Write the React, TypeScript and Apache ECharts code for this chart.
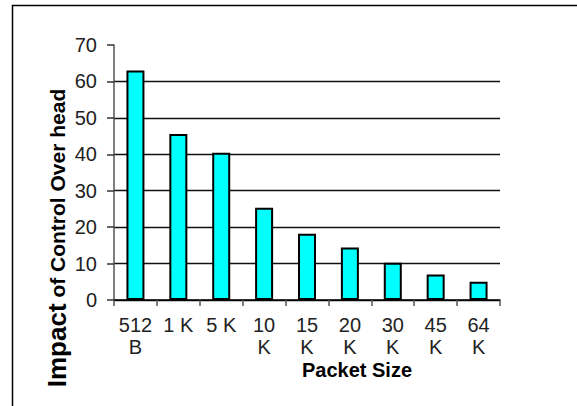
import React, { useEffect, useRef } from "react";
import * as echarts from "echarts";

const categories = ["512\nB", "1 K", "5 K", "10\nK", "15\nK", "20\nK", "30\nK", "45\nK", "64\nK"];
const overhead = [63, 45.6, 40.4, 25.3, 18.2, 14.4, 10.2, 7.0, 5.0];
const yTicks = { min: 0, max: 70, interval: 10 };
const yTitleMain = "Impact";
const yTitleRest = " of Control Over head";
const xTitle = "Packet Size";

const FONT = "'Liberation Sans', Arial, sans-serif";

export default function App() {
  const ref = useRef<HTMLDivElement>(null);
  useEffect(() => {
    if (!ref.current) return;
    const chart = echarts.init(ref.current, null, { renderer: "svg" });
    chart.setOption({
      animation: false,
      backgroundColor: "#ffffff",
      textStyle: { fontFamily: FONT },
      grid: { left: 114, right: 77, top: 45, bottom: 106, containLabel: false },
      xAxis: {
        type: "category",
        data: categories,
        boundaryGap: true,
        axisLine: { show: true, lineStyle: { color: "#000", width: 1.5 } },
        axisTick: { show: true, length: 6, alignWithLabel: false, lineStyle: { color: "#555", width: 1.5 } },
        axisLabel: {
          interval: 0,
          margin: 14,
          fontSize: 20,
          lineHeight: 22,
          color: "#222",
          fontFamily: FONT,
        },
        splitLine: { show: false },
      },
      yAxis: {
        type: "value",
        min: yTicks.min,
        max: yTicks.max,
        interval: yTicks.interval,
        axisLine: { show: true, lineStyle: { color: "#555", width: 1.5 } },
        axisTick: { show: true, length: 7, inside: false, lineStyle: { color: "#333", width: 1.5 } },
        axisLabel: { margin: 17, fontSize: 20, color: "#222", fontFamily: FONT },
        splitLine: { show: true, showMaxLine: false, lineStyle: { color: "#111", width: 1.3 } },
      },
      series: [
        {
          type: "bar",
          data: overhead,
          barWidth: 18,
          itemStyle: { color: "#00FFFF", borderColor: "#000", borderWidth: 2 },
        },
      ],
      graphic: [
        {
          type: "rect",
          shape: { x: 12.5, y: 5.5, width: 700, height: 600 },
          style: { fill: "none", stroke: "#000", lineWidth: 1.5 },
          silent: true,
        },
        {
          type: "text",
          x: 57,
          y: 238,
          rotation: Math.PI / 2,
          style: {
            text: "{a|" + yTitleMain + "}{b|" + yTitleRest + "}",
            align: "center",
            verticalAlign: "middle",
            textAlign: "center",
            textVerticalAlign: "middle",
            fill: "#000",
            rich: {
              a: { fontSize: 26, fontWeight: "bold", fontFamily: FONT, fill: "#000", color: "#000" },
              b: { fontSize: 21, fontWeight: "bold", fontFamily: FONT, fill: "#000", color: "#000" },
            },
          },
        },
        {
          type: "text",
          x: 357,
          y: 370,
          style: {
            text: xTitle,
            align: "center",
            verticalAlign: "middle",
            textAlign: "center",
            textVerticalAlign: "middle",
            fontSize: 20,
            fontWeight: "bold",
            fontFamily: FONT,
            fill: "#000",
          },
        },
      ],
    });
    return () => chart.dispose();
  }, []);
  return (
    <div
      ref={ref}
      style={{ position: "fixed", left: 0, top: 0, width: 577, height: 406 }}
    />
  );
}
